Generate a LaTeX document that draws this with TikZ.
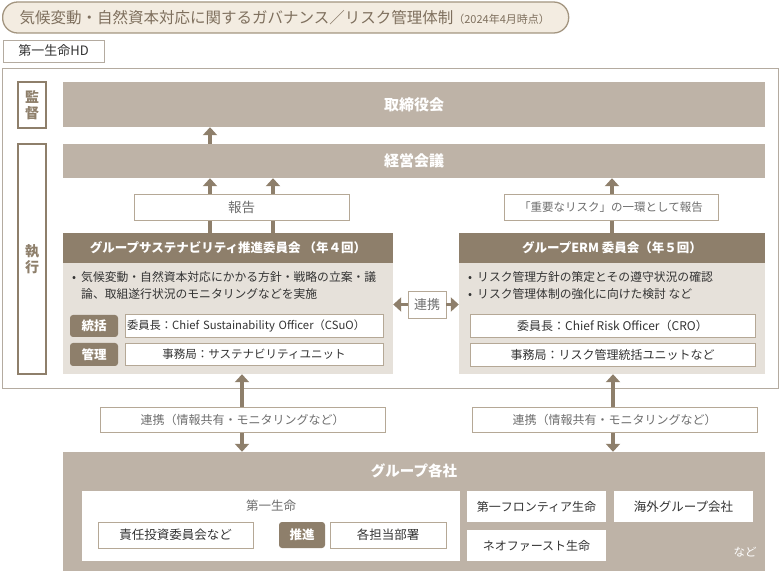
\documentclass[tikz,border=0pt]{standalone}
\usepackage{fontspec}
\setmainfont{Noto Sans CJK JP}
\usetikzlibrary{arrows.meta,positioning}
\definecolor{barfill}{HTML}{BEB3A7}
\definecolor{darkbrown}{HTML}{8E7F6B}
\definecolor{bodyfill}{HTML}{E6E1DA}
\definecolor{titlefill}{HTML}{F3ECE1}
\definecolor{titleline}{HTML}{A39580}
\definecolor{titletext}{HTML}{7F705E}
\definecolor{boxline}{HTML}{B5A896}
\definecolor{outerline}{HTML}{B4ABA0}
\definecolor{txtdark}{HTML}{333333}
\definecolor{txtgray}{HTML}{6E6E6E}
\newcommand{\fsz}[1]{\fontsize{#1}{#1}\selectfont}
\tikzset{
  bar/.style={fill=barfill, text=white, font=\bfseries\fsz{15}, inner sep=0pt},
  headbar/.style={fill=darkbrown, text=white, font=\bfseries\fsz{12.5}, inner sep=0pt},
  bodybox/.style={fill=bodyfill, inner sep=0pt},
  wbox/.style={fill=white, draw=boxline, line width=0.8pt, text=txtgray, font=\fsz{11.5}, inner sep=0pt},
  plainbox/.style={fill=white, text=txtdark, font=\fsz{11.5}, inner sep=0pt},
  tagbox/.style={fill=darkbrown, rounded corners=3pt, text=white, font=\bfseries\fsz{12.5}, inner sep=0pt},
  sidebox/.style={draw=darkbrown, line width=1.2pt, fill=white, text=darkbrown, font=\bfseries\fontsize{14}{16}\selectfont, align=center, inner sep=0pt},
  arr/.style={draw=darkbrown, line width=3.5pt, -{Triangle[width=14pt,length=8pt]}},
  darr/.style={arr, {Triangle[width=14pt,length=8pt]}-{Triangle[width=14pt,length=8pt]}},
}
\begin{document}
\begin{tikzpicture}[x=1pt,y=-1pt]
\useasboundingbox (0,0) rectangle (780,572);
% title
\node[fill=titlefill, draw=titleline, line width=1.3pt, rounded corners=15pt, anchor=west,
  minimum height=31pt, text width=532pt, inner xsep=17pt, inner ysep=0pt, align=left, text=titletext]
  (title) at (2,17.5) {\fsz{15.5}気候変動・自然資本対応に関するガバナンス／リスク管理体制{\fsz{11}（2024年4月時点）}};
\node[draw=outerline, line width=0.8pt, minimum width=101pt, minimum height=22pt, inner sep=0pt,
  text=txtdark, font=\fsz{13}] (hd) at (53.5,51) {第一生命HD};
% holding company frame
\draw[outerline, line width=0.8pt] (2,68) rectangle (778,388);
\node[sidebox, minimum width=28pt, minimum height=46pt] (kansa) at (32,105) {監\\督};
\node[sidebox, minimum width=28pt, minimum height=230pt] (shikko) at (32,259) {執\\行};
\node[bar, minimum width=702pt, minimum height=45pt] (board) at (414,104.5) {取締役会};
\node[bar, minimum width=702pt, minimum height=34pt] (mgmt) at (414,161) {経営会議};
% committees
\node[headbar, minimum width=330pt, minimum height=30pt] (shead) at (228,248) {グループサステナビリティ推進委員会 （年４回）};
\node[bodybox, minimum width=330pt, minimum height=111pt] (sbody) at (228,318.5) {};
\node[headbar, minimum width=306pt, minimum height=30pt] (ehead) at (612,248) {グループERM 委員会（年５回）};
\node[bodybox, minimum width=306pt, minimum height=111pt] (ebody) at (612,318.5) {};
\node[anchor=north west, inner sep=0pt, text=txtdark, font=\fsz{11.8}] (stext) at (72,271)
  {\begin{tabular}{@{}l@{\hspace{5pt}}l@{}}\textbullet & 気候変動・自然資本対応にかかる方針・戦略の立案・議\\[4pt]
   & 論、取組遂行状況のモニタリングなどを実施\end{tabular}};
\node[anchor=north west, inner sep=0pt, text=txtdark, font=\fsz{11.8}] (etext) at (468,271)
  {\begin{tabular}{@{}l@{\hspace{5pt}}l@{}}\textbullet & リスク管理方針の策定とその遵守状況の確認\\[4pt]
   \textbullet & リスク管理体制の強化に向けた検討 など\end{tabular}};
\node[tagbox, minimum width=48pt, minimum height=22pt] (toukatsu) at (94,326) {統括};
\node[tagbox, minimum width=48pt, minimum height=23pt] (kanri) at (94,354.5) {管理};
\node[wbox, text=txtdark, minimum width=258pt, minimum height=23pt, text width=254pt, align=left, font=\fsz{11.3}]
  (schair) at (254,325.5) {委員長：Chief Sustainability Officer（CSuO）};
\node[wbox, text=txtdark, minimum width=258pt, minimum height=22pt] (ssec) at (254,354) {事務局：サステナビリティユニット};
\node[wbox, text=txtdark, minimum width=285pt, minimum height=23pt, font=\fsz{12}] (echair) at (612.5,325.5) {委員長：Chief Risk Officer（CRO）};
\node[wbox, text=txtdark, minimum width=285pt, minimum height=23pt, font=\fsz{12}] (esec) at (612.5,354.5) {事務局：リスク管理統括ユニットなど};
\node[wbox, minimum width=38pt, minimum height=27pt, font=\fsz{13}] (renkei) at (427,304.5) {連携};
\draw[arr] (renkei.west) -- (sbody.east |- renkei.west);
\draw[arr] (renkei.east) -- (ebody.west |- renkei.east);
% group companies
\node[bar, minimum width=702pt, minimum height=119pt] (group) at (414,511.5) {};
\node[text=white, font=\bfseries\fsz{14.5}, inner sep=0pt] (grouplbl) at (414,471) {グループ各社};
\node[plainbox, minimum width=378pt, minimum height=70pt] (dl) at (271,526) {};
\node[text=txtgray, font=\fsz{12.5}, inner sep=0pt] (dllbl) at (271,506) {第一生命};
\node[wbox, text=txtdark, minimum width=155pt, minimum height=26pt, font=\fsz{12.5}] (sekinin) at (175.5,535) {責任投資委員会など};
\node[tagbox, minimum width=46pt, minimum height=26pt] (suishin) at (302,535) {推進};
\node[wbox, text=txtdark, minimum width=116pt, minimum height=26pt, font=\fsz{12.5}] (bumon) at (388,535) {各担当部署};
\node[plainbox, minimum width=139pt, minimum height=31pt, font=\fsz{12}] (frontier) at (536.5,506.5) {第一フロンティア生命};
\node[plainbox, minimum width=139pt, minimum height=31pt, font=\fsz{12.5}] (overseas) at (683.5,506.5) {海外グループ会社};
\node[plainbox, minimum width=139pt, minimum height=31pt, font=\fsz{12}] (neo) at (536.5,545.5) {ネオファースト生命};
\node[text=white, font=\fsz{11.5}, inner sep=0pt] (etc) at (745,552) {など};
% arrows
\coordinate (xa) at (210,0);
\coordinate (xb) at (273,0);
\coordinate (xc) at (612,0);
\coordinate (xd) at (242,0);
\coordinate (xe) at (613,0);
\draw[arr] (mgmt.north -| xa) -- (board.south -| xa);
\draw[arr] (shead.north -| xa) -- (mgmt.south -| xa);
\draw[arr] (shead.north -| xb) -- (mgmt.south -| xb);
\draw[arr] (ehead.north -| xc) -- (mgmt.south -| xc);
\draw[darr] (group.north -| xd) -- (sbody.south -| xd);
\draw[darr] (group.north -| xe) -- (ebody.south -| xe);
\node[wbox, minimum width=215pt, minimum height=26pt, font=\fsz{13.5}] (srep) at (241.5,207) {報告};
\node[wbox, minimum width=214pt, minimum height=26pt] (erep) at (611,207) {「重要なリスク」の一環として報告};
\node[wbox, minimum width=285pt, minimum height=25pt, font=\fsz{12}] (slink) at (242.5,419.5) {連携（情報共有・モニタリングなど）};
\node[wbox, minimum width=285pt, minimum height=25pt, font=\fsz{12}] (elink) at (614.5,419.5) {連携（情報共有・モニタリングなど）};
\end{tikzpicture}
\end{document}
